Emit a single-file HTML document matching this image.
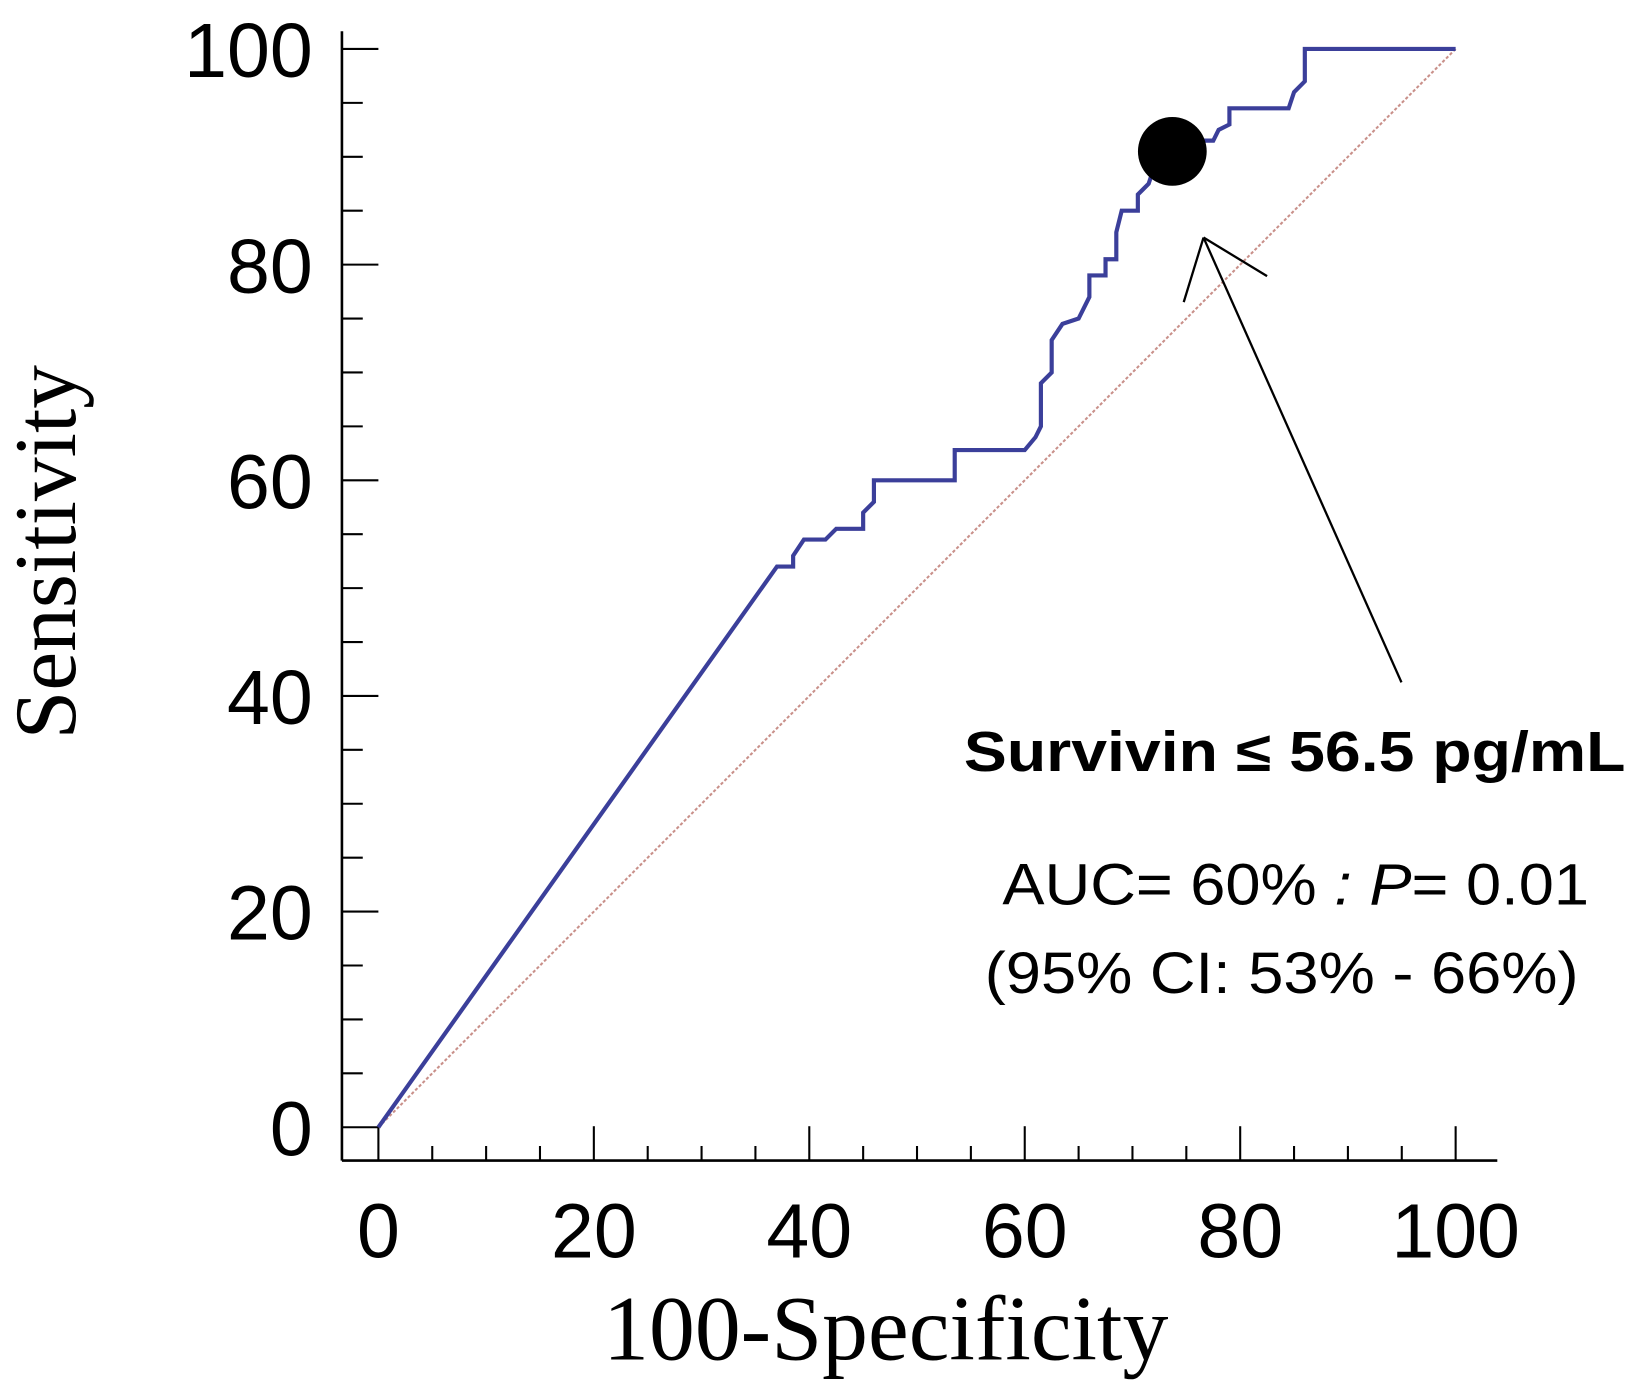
<!DOCTYPE html>
<html><head><meta charset="utf-8"><style>
html,body{margin:0;padding:0;background:#fff;}
svg{display:block;}
</style></head><body>
<svg id="chart" width="1634" height="1395" viewBox="0 0 1568 1339" xmlns="http://www.w3.org/2000/svg">
<g id="axes"></g>
<line id="diag" stroke="#c9908a" stroke-width="2" stroke-dasharray="3,2"/>
<polyline id="roc" fill="none" stroke="#3b3f9a" stroke-width="4" stroke-linejoin="miter"/>
<circle id="cut" r="33" fill="#000"/>
<g stroke="#000" stroke-width="2.2" fill="none">
<line x1="1345" y1="655" x2="1155" y2="228"/>
<line x1="1155" y1="228" x2="1136" y2="290"/>
<line x1="1155" y1="228" x2="1216" y2="265"/>
</g>
<text x="925" y="740" textLength="635" lengthAdjust="spacingAndGlyphs" font-family="Liberation Sans, sans-serif" font-weight="bold" font-size="54">Survivin ≤ 56.5 pg/mL</text>
<text x="962" y="868" textLength="563" lengthAdjust="spacingAndGlyphs" font-family="Liberation Sans, sans-serif" font-size="56">AUC= 60% <tspan font-style="italic">: P</tspan>= 0.01</text>
<text x="945" y="953" textLength="570" lengthAdjust="spacingAndGlyphs" font-family="Liberation Sans, sans-serif" font-size="56">(95% CI: 53% - 66%)</text>
<text transform="translate(72,530) rotate(-90)" text-anchor="middle" font-family="Liberation Serif, serif" font-size="84">Sensitivity</text>
<text x="850" y="1305" text-anchor="middle" font-family="Liberation Serif, serif" font-size="88">100-Specificity</text>
</svg>
<script>
const fprValues=[0,37,38.5,38.5,39.5,41.5,42.5,45,45,46,46,53.5,53.5,60,61,61.5,61.5,62.5,62.5,63.5,65,66,66,67.5,67.5,68.5,68.5,69,70.5,70.5,71.5,72,73,74,77.5,78,79,79,84.5,85,86,86,100];
const tprValues=[0,52,52,53,54.5,54.5,55.5,55.5,57,58,60,60,62.8,62.8,64,65,69,70,73,74.5,75,77,79,79,80.5,80.5,83,85,85,86.5,87.5,89,90,91.5,91.5,92.5,93,94.5,94.5,96,97,100,100];
const tickValues=[0,20,40,60,80,100];
const cutoff=[73.7,90.5];
const X0=363,X1=1397,Y0=1082,Y1=47,AX=328,AY=1114;
const sx=v=>X0+(X1-X0)*v/100, sy=v=>Y0-(Y0-Y1)*v/100;
const NS="http://www.w3.org/2000/svg";
const axes=document.getElementById('axes');
function mk(tag,attrs,parent){const e=document.createElementNS(NS,tag);for(const k in attrs)e.setAttribute(k,attrs[k]);parent.appendChild(e);return e;}
let l=mk('line',{x1:AX,y1:30,x2:AX,y2:AY,stroke:'#000','stroke-width':2.5},axes);


l=mk('line',{x1:AX,y1:AY,x2:1437,y2:AY,stroke:'#000','stroke-width':2.5},axes);


for(let v=0;v<=100;v+=5){
  const major=v%20===0;
  let t=mk('line',{x1:AX,y1:sy(v),x2:AX+(major?35:20),y2:sy(v),stroke:'#000','stroke-width':2},axes);
  
  
  t=mk('line',{x1:sx(v),y1:AY,x2:sx(v),y2:AY-(major?33:14),stroke:'#000','stroke-width':2},axes);
  
  
}
tickValues.forEach(v=>{
  let t=mk('text',{x:300,y:sy(v)+27,'text-anchor':'end','font-family':'Liberation Sans, sans-serif','font-size':74},axes);
  t.textContent=v;
  
  
  t=mk('text',{x:sx(v),y:1207,'text-anchor':'middle','font-family':'Liberation Sans, sans-serif','font-size':74},axes);
  t.textContent=v;
  
  
});
const d=document.getElementById('diag');
d.setAttribute('x1',sx(0));d.setAttribute('y1',sy(0));d.setAttribute('x2',sx(100));d.setAttribute('y2',sy(100));
document.getElementById('roc').setAttribute('points',fprValues.map((f,i)=>sx(f)+','+sy(tprValues[i])).join(' '));
const c=document.getElementById('cut');
c.setAttribute('cx',sx(cutoff[0]));c.setAttribute('cy',sy(cutoff[1]));
</script>
</body></html>
